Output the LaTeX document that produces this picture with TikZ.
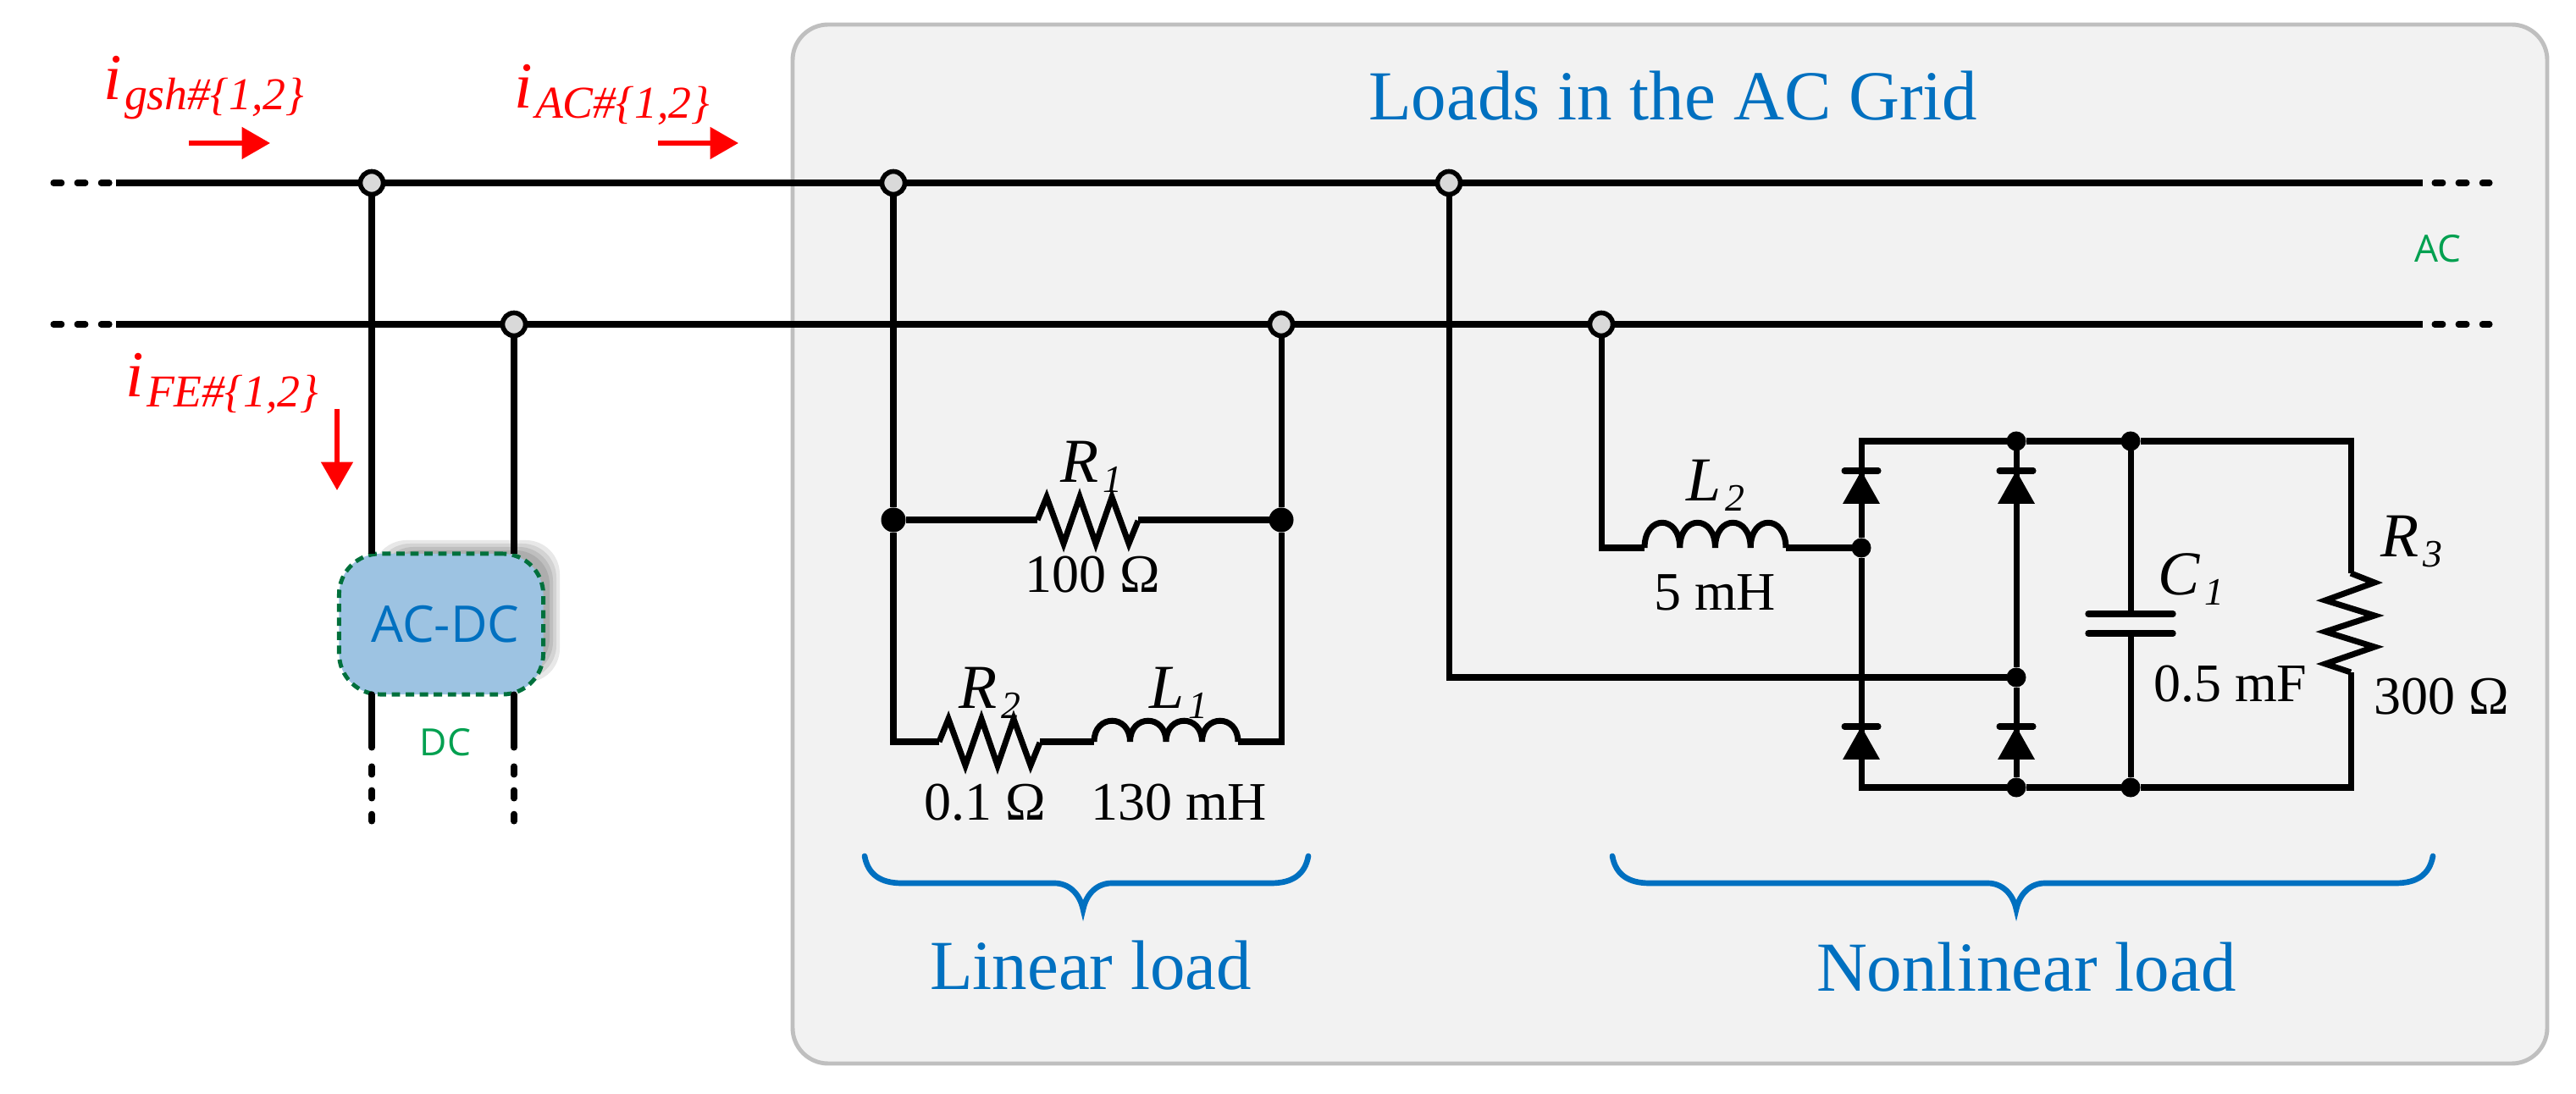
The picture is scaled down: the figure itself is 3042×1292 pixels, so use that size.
\documentclass[tikz,border=0pt]{standalone}
\usepackage{fontspec}
\setmainfont{Liberation Serif}
\newfontfamily\uisans{Open Sans}
\usetikzlibrary{arrows.meta}
\definecolor{panelfill}{HTML}{F2F2F2}
\definecolor{panelline}{HTML}{BFBFBF}
\definecolor{loadblue}{HTML}{0070C0}
\definecolor{boxblue}{HTML}{9DC3E2}
\definecolor{boxgreen}{HTML}{00703C}
\definecolor{tagreen}{HTML}{00A050}
\definecolor{jfill}{HTML}{D9D9D9}
\newcommand{\fs}[1]{\fontsize{#1}{#1}\selectfont}
\newcommand{\symb}[2]{\fs{21}\textit{#1}\hspace{1.5pt}\raisebox{-3.2pt}{\fs{13}\textit{#2}}}
\newcommand{\cur}[2]{\fs{22}\textit{#1}\hspace{1pt}\raisebox{-3.4pt}{\fs{15.3}\textit{#2\#\{1,2\}}}}
\tikzset{
  wire/.style={line width=2pt,black,line join=miter},
  dotwire/.style={line width=2pt,black,line cap=round,dash pattern=on 2.8pt off 5.2pt},
  ojunc/.style={circle,draw=black,fill=jfill,line width=1.6pt,minimum size=0.27cm,inner sep=0,outer sep=0},
  fjunc/.style={circle,fill=black,minimum size=0.29cm,inner sep=0,outer sep=0},
  sjunc/.style={circle,fill=black,minimum size=0.23cm,inner sep=0,outer sep=0},
  lbl/.style={anchor=base west,inner sep=0,outer sep=0},
  clbl/.style={anchor=base,inner sep=0,outer sep=0},
  redarrow/.style={red,line width=1.5pt,-{Triangle[length=9.5pt,width=10.5pt]}},
  bracep/.style={loadblue,line width=1.9pt,line cap=round},
  pics/hres/.style={code={\draw[wire] (0,0) -- ++(11,-27) -- ++(20,55) -- ++(19,-55) -- ++(19,55) -- ++(19,-55) -- ++(20,55) -- ++(11,-27);}},
  pics/coil/.style={code={\draw[wire] (0,0) .. controls (0,-33) and (42.5,-33) .. (42.5,0)
      .. controls (42.5,-33) and (85,-33) .. (85,0)
      .. controls (85,-33) and (127.5,-33) .. (127.5,0)
      .. controls (127.5,-33) and (170,-33) .. (170,0);}},
  pics/diode/.style={code={\draw[wire,line cap=round] (-20,0) -- (20,0);\fill (0,0) -- (22,39) -- (-22,39) -- cycle;}}
}
\begin{document}
\begin{tikzpicture}[x=0.01cm,y=-0.01cm]
\useasboundingbox (0,0) rectangle (3042,1292);
\fill[white] (0,0) rectangle (3042,1292);
% panel
\draw[panelline,fill=panelfill,line width=1.4pt,rounded corners=0.42cm] (936,29) rectangle (3008,1256);
% shadow of the converter
\foreach \g in {0,4,8,12}
  \fill[black,opacity=.09,rounded corners=0.4cm] (440+\g,638+\g) rectangle (661-\g,806-\g);
% junctions
\node[ojunc] (ja) at (439,216) {};
\node[ojunc] (jb) at (607,383) {};
\node[ojunc] (jc) at (1055,216) {};
\node[ojunc] (jd) at (1513,383) {};
\node[ojunc] (je) at (1711,216) {};
\node[ojunc] (jf) at (1891,383) {};
\node[fjunc] (dl) at (1055,614) {};
\node[fjunc] (dr) at (1513,614) {};
\node[sjunc] (btm) at (2381,521) {};
\node[sjunc] (btc) at (2516,521) {};
\node[sjunc] (bbm) at (2381,930) {};
\node[sjunc] (bbc) at (2516,930) {};
\node[sjunc] (bl2) at (2198,647) {};
\node[sjunc] (bac) at (2381,800) {};
% free ends and corners
\coordinate (t0) at (137,216); \coordinate (t00) at (63,216);
\coordinate (b0) at (137,383); \coordinate (b00) at (63,383);
\coordinate (t1) at (2861,216); \coordinate (t11) at (2940,216);
\coordinate (b1) at (2861,383); \coordinate (b11) at (2940,383);
\coordinate (c1) at (1055,876); \coordinate (c2) at (1513,876);
\coordinate (c3) at (1891,647); \coordinate (c4) at (1711,800);
\coordinate (k1) at (2198,521); \coordinate (k2) at (2198,930);
\coordinate (k3) at (2776,521); \coordinate (k4) at (2776,930);
\coordinate (r3a) at (2776,677); \coordinate (r3b) at (2776,794);
\coordinate (p1) at (2516,725); \coordinate (p2) at (2516,748);
\coordinate (p1l) at (2466,725); \coordinate (p1r) at (2566,725);
\coordinate (p2l) at (2466,748); \coordinate (p2r) at (2566,748);
\coordinate (r1a) at (1225,614); \coordinate (r1b) at (1344,614);
\coordinate (r2a) at (1109,876); \coordinate (r2b) at (1228,876);
\coordinate (l1a) at (1292,876); \coordinate (l1b) at (1462,876);
\coordinate (l2a) at (1942,647); \coordinate (l2b) at (2109,647);
% converter
\node[draw=boxgreen,fill=boxblue,line width=1.4pt,dash pattern=on 2.8pt off 1.9pt,rounded corners=0.48cm,
      minimum width=2.41cm,minimum height=1.66cm,inner sep=0,outer sep=0,
      text=loadblue,font=\uisans\fs{17}] (acdc) at (521,737) {\hspace{0.1cm}AC-DC};
\coordinate (aa) at (439,654); \coordinate (ab) at (607,654);
\coordinate (ac) at (439,820); \coordinate (ad) at (607,820);
\coordinate (ae) at (439,883); \coordinate (af) at (607,883);
\coordinate (ag) at (439,905); \coordinate (ah) at (607,905);
\coordinate (ai) at (439,970); \coordinate (aj) at (607,970);
% bus lines
\draw[dotwire] (t00) -- (t0);
\draw[dotwire] (b00) -- (b0);
\draw[wire] (t0) -- (ja) (ja) -- (jc) (jc) -- (je) (je) -- (t1);
\draw[wire] (b0) -- (jb) (jb) -- (jd) (jd) -- (jf) (jf) -- (b1);
\draw[dotwire] (t1) ++(14,0) -- (t11);
\draw[dotwire] (b1) ++(14,0) -- (b11);
% converter feeders
\draw[wire] (ja) -- (aa);
\draw[wire] (jb) -- (ab);
\draw[wire,line cap=round] (ac) -- (ae);
\draw[wire,line cap=round] (ad) -- (af);
\draw[dotwire] (ag) -- (ai);
\draw[dotwire] (ah) -- (aj);
% linear load
\draw[wire] (jc) -- (dl) -- (c1) -- (r2a);
\draw[wire] (jd) -- (dr) -- (c2) -- (l1b);
\draw[wire] (dl) -- (r1a);
\draw[wire] (r1b) -- (dr);
\draw[wire] (r2b) -- (l1a);
\pic at (r1a) {hres};
\pic at (r2a) {hres};
\pic at (l1a) {coil};
% nonlinear load
\draw[wire] (jf) -- (c3) -- (l2a);
\draw[wire] (l2b) -- (bl2);
\pic[xscale=.982,yscale=1.2] at (l2a) {coil};
\draw[wire] (je) -- (c4) -- (bac);
\draw[wire] (bl2) -- (k1) -- (btm) -- (btc) -- (k3) -- (r3a);
\draw[wire] (bl2) -- (k2) -- (bbm) -- (bbc) -- (k4) -- (r3b);
\draw[wire] (btm) -- (bac) -- (bbm);
\draw[wire] (btc) -- (p1);
\draw[wire] (p2) -- (bbc);
\draw[wire,line width=2.1pt,line cap=round] (p1l) -- (p1r);
\draw[wire,line width=2.1pt,line cap=round] (p2l) -- (p2r);
\draw[wire] (r3a) -- (2804,688) -- (2746,709) -- (2804,727) -- (2746,746) -- (2804,764) -- (2746,784) -- (r3b);
\pic at (2198,556) {diode};
\pic at (2381,556) {diode};
\pic at (2198,858) {diode};
\pic at (2381,858) {diode};
% braces
\draw[bracep] (1021,1011) .. controls (1025,1033) and (1040,1043) .. (1065,1043) -- (1245,1043)
  .. controls (1262,1043) and (1275,1055) .. (1279,1074) .. controls (1283,1055) and (1296,1043) .. (1313,1043)
  -- (1501,1043) .. controls (1526,1043) and (1541,1033) .. (1545,1011);
\draw[bracep] (1904,1011) .. controls (1908,1033) and (1923,1043) .. (1948,1043) -- (2347,1043)
  .. controls (2364,1043) and (2377,1055) .. (2381,1074) .. controls (2385,1055) and (2398,1043) .. (2415,1043)
  -- (2829,1043) .. controls (2854,1043) and (2869,1033) .. (2873,1011);
% red current arrows
\coordinate (ar1) at (223,169); \coordinate (ar1e) at (319,169);
\coordinate (ar2) at (777,169); \coordinate (ar2e) at (872,169);
\coordinate (ar3) at (398,483); \coordinate (ar3e) at (398,579);
\draw[redarrow] (ar1) -- (ar1e);
\draw[redarrow] (ar2) -- (ar2e);
\draw[redarrow] (ar3) -- (ar3e);
% labels
\node[lbl,text=red] (igsh) at (122,118) {\cur{i}{gsh}};
\node[lbl,text=red] (iac) at (607,128) {\cur{i}{AC}};
\node[lbl,text=red] (ife) at (148,469) {\cur{i}{FE}};
\node[lbl,text=loadblue,font=\fs{23.6}] (tgrid) at (1616,142) {Loads in the AC Grid};
\node[lbl,text=loadblue,font=\fs{23.6}] (tlin) at (1098,1169) {Linear load};
\node[lbl,text=loadblue,font=\fs{23.6}] (tnon) at (2145,1170) {Nonlinear load};
\node[clbl,text=tagreen,font=\uisans\fs{12.6}] (tac) at (2879,310) {AC};
\node[clbl,text=tagreen,font=\uisans\fs{12.6}] (tdc) at (526,893) {DC};
\node[lbl] (nr1) at (1252,570) {\symb{R}{1}};
\node[lbl] (nr2) at (1132,837) {\symb{R}{2}};
\node[lbl] (nl1) at (1357,837) {\symb{L}{1}};
\node[lbl] (nl2) at (1991,592) {\symb{L}{2}};
\node[lbl] (nc1) at (2548,703) {\symb{C}{1}};
\node[lbl] (nr3) at (2811,658) {\symb{R}{3}};
\node[lbl,font=\fs{18.2}] (v1) at (1210,700) {100 Ω};
\node[lbl,font=\fs{18.2}] (v2) at (1091,969) {0.1 Ω};
\node[lbl,font=\fs{18.2}] (v3) at (1288,969) {130 mH};
\node[lbl,font=\fs{18.2}] (v4) at (1953,721) {5 mH};
\node[lbl,font=\fs{18.2}] (v5) at (2543,829) {0.5 mF};
\node[lbl,font=\fs{18.2}] (v6) at (2803,844) {300 Ω};
\end{tikzpicture}
\end{document}
